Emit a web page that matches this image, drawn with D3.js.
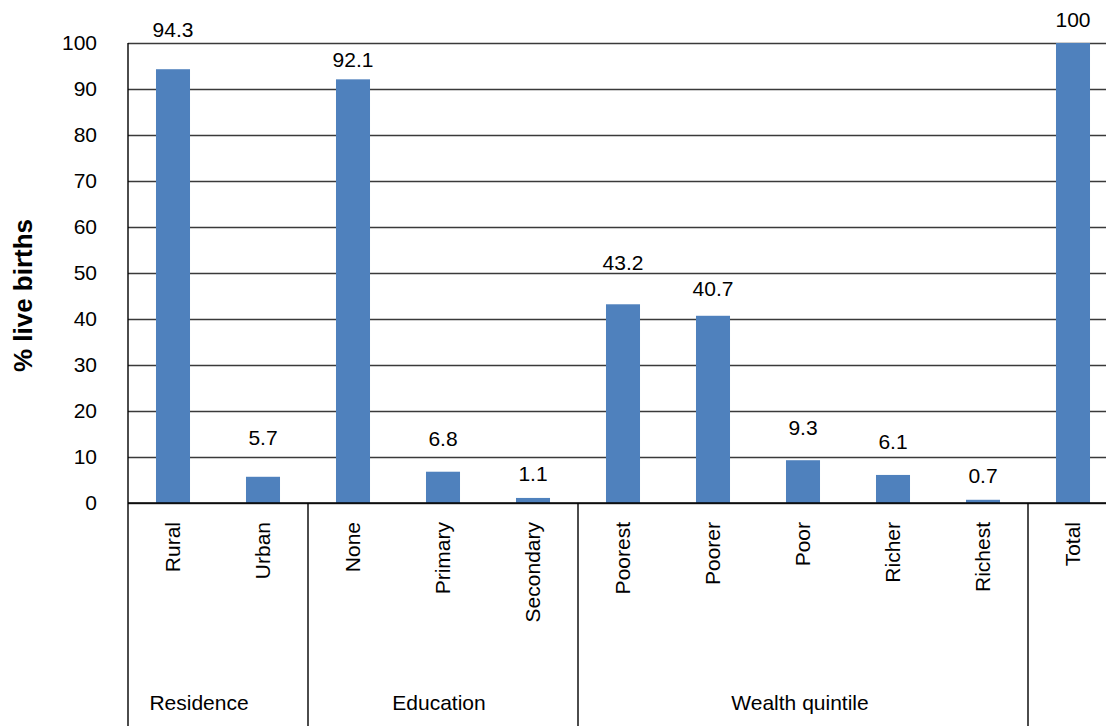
<!DOCTYPE html>
<html><head><meta charset="utf-8">
<script src="https://cdn.jsdelivr.net/npm/d3@7"></script>
<style>
body{margin:0;background:#fff}
svg{display:block}
text{font-family:"Liberation Sans",Arial,sans-serif;fill:#000}
</style>
</head><body><svg id="c" width="1106" height="726"></svg>
<script>
// ---- data ----
const categories = ["Rural","Urban","None","Primary","Secondary","Poorest","Poorer","Poor","Richer","Richest","Total"];
const values = [94.3,5.7,92.1,6.8,1.1,43.2,40.7,9.3,6.1,0.7,100];
const groupNames = ["Residence","Education","Wealth quintile",""];
const groupSizes = [2,3,5,1];
const yTickValues = [0,10,20,30,40,50,60,70,80,90,100];
const yTitle = "% live births";

// ---- layout (not data) ----
const W = 1106, H = 726;
const plotLeft = 128, plotTop = 43, plotBase = 503, band = 90;
const labelLift = [32,32,12,26,17,34,20,25,26,17,16];
const groupLabelShift = [-19,-4,-3,0];
const fs = 21;

const svg = d3.select("#c");
const x = d3.scaleBand().domain(categories).range([plotLeft, plotLeft + band*categories.length]).paddingInner(0.622).paddingOuter(0.311);
const y = d3.scaleLinear().domain([0,100]).range([plotBase, plotTop]);

// gridlines + tick labels
const yAxis = svg.append("g").attr("transform",`translate(${plotLeft},0)`)
  .call(d3.axisLeft(y).tickValues(yTickValues).tickSize(-(W-plotLeft)).tickPadding(31).tickFormat(d3.format("d")));
yAxis.select(".domain").remove();
yAxis.selectAll(".tick line").attr("stroke","#3a3a3a").attr("stroke-width",1.4);
yAxis.selectAll(".tick text").attr("font-size",fs).attr("font-family","Liberation Sans, Arial, sans-serif").attr("fill","#000");

// bars
svg.append("g").selectAll("rect").data(values).join("rect")
  .attr("x",(d,i)=>x(categories[i]))
  .attr("width",x.bandwidth())
  .attr("y",d=>y(d))
  .attr("height",d=>y(0)-y(d))
  .attr("fill","#4F81BD");

// value labels
svg.append("g").selectAll("text").data(values).join("text")
  .attr("x",(d,i)=>x(categories[i])+x.bandwidth()/2)
  .attr("y",(d,i)=>y(d)-labelLift[i])
  .attr("text-anchor","middle")
  .attr("font-size",fs)
  .text(d=>d);

// baseline & left axis line
svg.append("line").attr("x1",plotLeft).attr("x2",W).attr("y1",y(0)).attr("y2",y(0)).attr("stroke","#000").attr("stroke-width",1.4);
svg.append("line").attr("x1",plotLeft).attr("x2",plotLeft).attr("y1",y(100)).attr("y2",H).attr("stroke","#000").attr("stroke-width",1.4);

// category labels (rotated)
const xAxis = svg.append("g").attr("transform",`translate(0,${plotBase})`)
  .call(d3.axisBottom(x).tickSize(0).tickPadding(0));
xAxis.select(".domain").remove();
xAxis.selectAll(".tick text")
  .attr("font-size",fs).attr("font-family","Liberation Sans, Arial, sans-serif").attr("fill","#000")
  .attr("text-anchor","end")
  .attr("transform","rotate(-90)")
  .attr("x",-19).attr("y",0).attr("dy","0.35em");

// group separators and labels
let start = 0;
groupSizes.forEach((n,gi)=>{
  const x0 = x(categories[start]) - x.step()*x.paddingOuter();
  const endIdx = start + n - 1;
  const x1 = x(categories[endIdx]) + x.bandwidth() + x.step()*x.paddingOuter();
  if (gi < groupSizes.length-1) {
    svg.append("line").attr("x1",x1).attr("x2",x1).attr("y1",y(0)).attr("y2",H).attr("stroke","#000").attr("stroke-width",1.4);
  }
  if (groupNames[gi]) {
    svg.append("text").attr("x",(x0+x1)/2 + groupLabelShift[gi]).attr("y",710)
      .attr("text-anchor","middle").attr("font-size",fs).text(groupNames[gi]);
  }
  start += n;
});

// y title
svg.append("text").attr("transform",`translate(32,295.5) rotate(-90)`)
  .attr("text-anchor","middle").attr("font-size",26).attr("font-weight","bold").text(yTitle);
</script>
</body></html>
